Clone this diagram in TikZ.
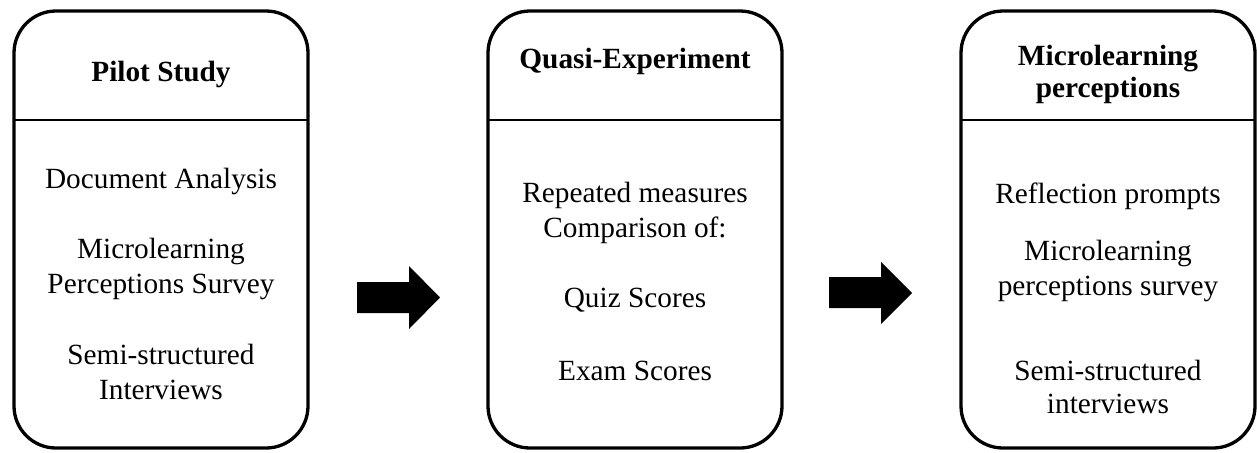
\documentclass[tikz,border=0pt]{standalone}
\usepackage{fontspec}
\setmainfont{Liberation Serif}
\begin{document}
\begin{tikzpicture}[x=0.5pt,y=-0.5pt,
  panel/.style={draw=black,line width=1.65pt,rounded corners=21pt},
  divider/.style={draw=black,line width=0.6pt},
  txt/.style={anchor=base,inner sep=0pt,font=\fontsize{14.65}{17.5}\selectfont},
  ttl/.style={txt,font=\fontsize{14.65}{17.5}\selectfont\bfseries},
  blockarrow/.style={fill=black,draw=none}]
\useasboundingbox (0,0) rectangle (1257,452);

% three stage panels
\draw[panel] (14,11) rectangle (308,448);
\draw[panel] (488,11) rectangle (782,448);
\draw[panel] (961,11) rectangle (1255,448);

% header dividers
\draw[divider] (14,120) -- (308,120);
\draw[divider] (488,120) -- (782,120);
\draw[divider] (961,120) -- (1255,120);

% stage 1
\node[ttl] (t1) at (161,81) {Pilot Study};
\node[txt] (a1) at (161,188) {Document Analysis};
\node[txt] (b1) at (161,258) {Microlearning};
\node[txt] (b2) at (161,293) {Perceptions Survey};
\node[txt] (c1) at (161,364) {Semi-structured};
\node[txt] (c2) at (161,399) {Interviews};

% stage 2
\node[ttl] (t2) at (635,68) {Quasi-Experiment};
\node[txt] (d1) at (635,202) {Repeated measures};
\node[txt] (d2) at (635,237) {Comparison of:};
\node[txt] (e1) at (635,307) {Quiz Scores};
\node[txt] (f1) at (635,380) {Exam Scores};

% stage 3
\node[ttl] (t3a) at (1108,65) {Microlearning};
\node[ttl] (t3b) at (1108,97) {perceptions};
\node[txt] (g1) at (1108,203) {Reflection prompts};
\node[txt] (h1) at (1108,260) {Microlearning};
\node[txt] (h2) at (1108,295) {perceptions survey};
\node[txt] (i1) at (1108,380) {Semi-structured};
\node[txt] (i2) at (1108,413) {interviews};

% block arrows between stages
\fill[blockarrow] (357,282) -- (409,282) -- (409,266) -- (440,297.5)
  -- (409,329) -- (409,313) -- (357,313) -- cycle;
\fill[blockarrow] (829,277) -- (881,277) -- (881,262) -- (912,293)
  -- (881,324) -- (881,308) -- (829,308) -- cycle;
\end{tikzpicture}
\end{document}
